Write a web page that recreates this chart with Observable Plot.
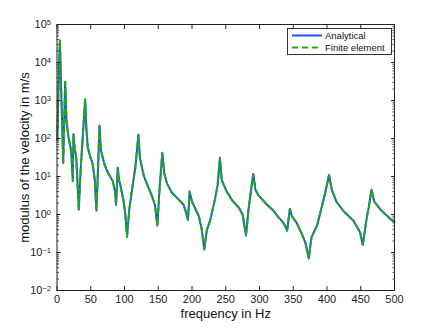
<!DOCTYPE html>
<html><head><meta charset="utf-8">
<script src="https://cdn.jsdelivr.net/npm/d3@7"></script>
<script src="https://cdn.jsdelivr.net/npm/@observablehq/plot@0.6"></script>
<style>body{margin:0;background:#fff} #chart{width:436px;height:328px}</style>
</head><body><div id="chart"></div>
<script>
const freq = [0.5,2,4.3,6,8,9.2,12.1,14,17,21,23.4,24.4,26,28.4,32.3,35,38,41.7,43.5,45.6,50,53,56,58.4,61,62.9,65,70.3,76,82.6,86,87.5,90,92,94,98,101,103.8,107,111,116,120.6,123,128.4,135,140,145,148.7,152,156,159,163,170,180,187.6,192,194,196.5,200,205,209.8,214,218.2,222,227,234,238,241.4,244,251.8,260,269,275,280,284,290.7,294,298.5,310,320,328,334,338,341,345,348,355,362.7,368,373,377,385,390,397,403,407,414.5,425,439,449,453,459,462,466,470,478.5,488,498,500];
const analytical = [90,1500,38000,2500,150,23,3100,290,110,47,7.6,130,60,34,1.35,15,100,1070,180,58,30,21,8,1.25,20,215,50,21,12,7.6,4,1.8,17,8,5.8,2.6,1.1,0.26,1.3,4.3,17,125,30,10.7,5.3,3.3,1.8,0.51,5,42,12,6.5,3.8,2.5,1.8,1.0,0.72,4.0,2.2,1.4,0.93,0.45,0.12,0.4,0.7,2.5,6,31,8,3.9,2.3,1.55,1.0,0.28,1.5,11.7,4.5,3.2,1.9,1.3,0.85,0.65,0.5,0.38,1.4,0.9,0.6,0.31,0.18,0.07,0.25,0.5,1.1,3.5,11,4.5,2.1,1.2,0.69,0.34,0.16,0.85,1.6,4.5,2.2,1.4,0.95,0.66,0.64];
const finiteElement = [90,1500,38000,2500,150,23,3100,290,110,47,7.6,130,60,34,1.35,15,100,1070,180,58,30,21,8,1.25,20,215,50,21,12,7.6,4,1.8,17,8,5.8,2.6,1.1,0.26,1.3,4.3,17,125,30,10.7,5.3,3.3,1.8,0.51,5,42,12,6.5,3.8,2.5,1.8,1.0,0.72,4.0,2.2,1.4,0.93,0.45,0.12,0.4,0.7,2.5,6,31,8,3.9,2.3,1.55,1.0,0.28,1.5,11.7,4.5,3.2,1.9,1.3,0.85,0.65,0.5,0.38,1.4,0.9,0.6,0.31,0.18,0.07,0.25,0.5,1.1,3.5,11,4.5,2.1,1.2,0.69,0.34,0.16,0.85,1.6,4.5,2.2,1.4,0.95,0.66,0.64];
const seriesNames = ["Analytical", "Finite element"];
const xTicks = [0,50,100,150,200,250,300,350,400,450,500];
const yTicks = [1e-2,1e-1,1e0,1e1,1e2,1e3,1e4,1e5];
const xLabel = "frequency in Hz";
const yLabel = "modulus of the velocity in m/s";

const blue = "#1f4dff", green = "#1fa51f";
const font = "'Liberation Sans', Arial, Helvetica, sans-serif";
const rows = freq.map((f, i) => ({f, a: analytical[i], fe: finiteElement[i]}));
const minor = [];
for (let e = -2; e < 5; e++) for (let m = 2; m <= 9; m++) minor.push(m * Math.pow(10, e));

const plot = Plot.plot({
  width: 436, height: 328,
  marginLeft: 56.5, marginRight: 42, marginTop: 24, marginBottom: 38,
  style: {fontFamily: font, background: "#fff", color: "#222"},
  x: {domain: [0, 500]},
  y: {type: "log", domain: [1e-2, 1e5]},
  marks: [
    Plot.line(rows, {x: "f", y: "a", stroke: blue, strokeWidth: 2}),
    Plot.line(rows, {x: "f", y: "fe", stroke: green, strokeWidth: 2, strokeDasharray: "6,4"}),
    Plot.frame({stroke: "#222", strokeWidth: 1}),
    Plot.axisX({ticks: xTicks, tickSize: 0, tickPadding: 5, tickFormat: d => String(d), label: null, fontSize: 11, fill: "#222"}),
    Plot.axisX({ticks: xTicks, tickSize: -4, fill: "none", label: null, stroke: "#222"}),
    Plot.axisX({anchor: "top", ticks: xTicks, tickSize: -4, fill: "none", label: null, stroke: "#222"}),
    Plot.axisY({ticks: yTicks, tickSize: 0, tickPadding: 6, tickFormat: d => String(Math.round(Math.log10(d))), label: null, fontSize: 11, fill: "#222"}),
    Plot.axisY({ticks: yTicks, tickSize: -4, fill: "none", label: null, stroke: "#222"}),
    Plot.axisY({ticks: minor, tickSize: -2.5, fill: "none", label: null, stroke: "#444"}),
    Plot.axisY({anchor: "right", ticks: yTicks, tickSize: -4, fill: "none", label: null, stroke: "#222"}),
    Plot.axisY({anchor: "right", ticks: minor, tickSize: -2.5, fill: "none", label: null, stroke: "#444"}),
    Plot.text([xLabel], {frameAnchor: "bottom", dy: 23, lineAnchor: "middle", textAnchor: "middle", fontSize: 13, fill: "#111"}),
    Plot.text([yLabel], {frameAnchor: "left", rotate: -90, dx: -32, lineAnchor: "middle", textAnchor: "middle", fontSize: 13, fill: "#111"})
  ]
});
document.getElementById("chart").appendChild(plot);

const svg = d3.select(plot);
// superscript exponents on y tick labels
svg.selectAll('g[aria-label="y-axis tick label"] text').each(function() {
  const t = d3.select(this);
  const exp = t.text();
  t.text(null);
  t.append("tspan").text("10");
  t.append("tspan").attr("dy", "-0.45em").attr("font-size", "7.5px").text(exp.replace("−", "-").replace("-", "\u2212"));
});

// legend
const lg = svg.append("g").attr("font-family", font).attr("font-size", "9.5px").attr("text-anchor", "start");
lg.append("rect").attr("x", 287.5).attr("y", 28.5).attr("width", 104).attr("height", 26)
  .attr("fill", "#fff").attr("stroke", "#333").attr("stroke-width", 1);
const legendColors = [blue, green], legendDash = [null, "6,4"];
seriesNames.forEach((name, i) => {
  const y = 35.5 + i * 12;
  lg.append("line").attr("x1", 292).attr("x2", 322).attr("y1", y).attr("y2", y)
    .attr("stroke", legendColors[i]).attr("stroke-width", 2).attr("stroke-dasharray", legendDash[i]);
  lg.append("text").attr("x", 325).attr("y", y).attr("dy", "0.35em").attr("text-anchor", "start").attr("fill", "#111").text(name);
});
</script>
</body></html>
